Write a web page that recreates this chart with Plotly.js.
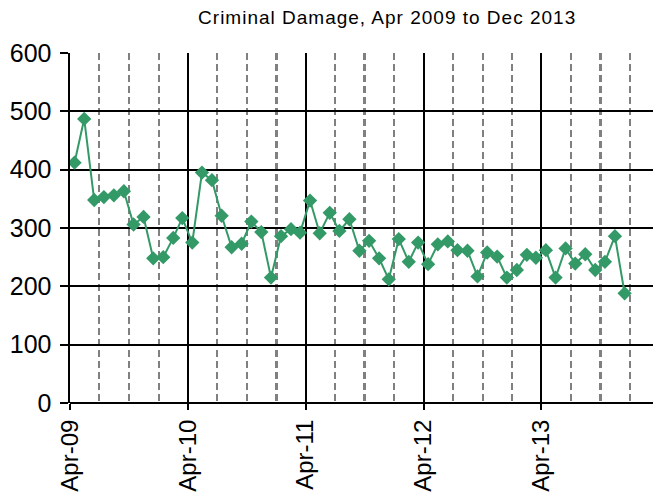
<!DOCTYPE html>
<html>
<head>
<meta charset="utf-8">
<script src="https://cdn.plot.ly/plotly-3.0.1.min.js"></script>
<style>
html, body { margin: 0; padding: 0; background: #fff; }
#chart { width: 653px; height: 492px; }
.gtitle { letter-spacing: 1px; }
</style>
</head>
<body>
<div id="chart"></div>
<script>
// Monthly counts, Apr 2009 .. Dec 2013
const startYear = 2009, startMonth = 4, monthCount = 57;
const counts = [
  412, 487, 348, 353, 356, 363, 306, 319, 248, 250, 283, 317,
  275, 395, 382, 321, 267, 273, 311, 293, 215, 286, 298, 292,
  347, 291, 326, 295, 315, 261, 278, 248, 212, 281, 242, 275,
  238, 272, 277, 262, 261, 217, 258, 251, 215, 228, 254, 249,
  262, 215, 265, 239, 255, 228, 242, 286, 188
];
const yTicks = [0, 100, 200, 300, 400, 500, 600];

const months = [];
for (let i = 0; i < monthCount; i++) {
  const m0 = startMonth - 1 + i;
  const y = startYear + Math.floor(m0 / 12);
  const m = (m0 % 12) + 1;
  months.push(y + '-' + String(m).padStart(2, '0') + '-15');
}

const font = 'Arial, "Liberation Sans", sans-serif';
const green = '#339966';

const trace = {
  x: months,
  y: counts,
  type: 'scatter',
  mode: 'lines+markers',
  line: { color: green, width: 2 },
  marker: { symbol: 'diamond', size: 11, color: green },
  hoverinfo: 'x+y'
};

const layout = {
  width: 653,
  height: 492,
  margin: { l: 70, r: 0, t: 53, b: 89 },
  paper_bgcolor: '#fff',
  plot_bgcolor: '#fff',
  showlegend: false,
  title: {
    text: 'Criminal Damage, Apr 2009 to Dec 2013',
    font: { family: font, size: 19, color: '#000' },
    xref: 'paper', x: 0.544, xanchor: 'center',
    yref: 'container', y: 0.978, yanchor: 'top'
  },
  xaxis: {
    type: 'date',
    range: ['2009-04-01', '2014-03-13'],
    tick0: '2009-04-01',
    dtick: 'M12',
    tickformat: '%b-%y',
    tickangle: -90,
    ticks: 'outside',
    ticklen: 6,
    tickwidth: 2,
    tickcolor: '#000',
    tickfont: { family: font, size: 24, color: '#000' },
    showgrid: true,
    gridcolor: '#000',
    gridwidth: 2,
    minor: {
      tick0: '2009-04-01',
      dtick: 'M3',
      showgrid: true,
      gridcolor: '#808080',
      gridwidth: 2.2,
      griddash: '7px,4px',
      ticks: ''
    },
    showline: false,
    zeroline: false,
    fixedrange: true
  },
  yaxis: {
    range: [0, 600],
    tickvals: yTicks,
    ticktext: yTicks.map(String),
    ticks: 'outside',
    ticklen: 8,
    tickwidth: 2,
    tickcolor: '#000',
    ticklabelstandoff: 3,
    tickfont: { family: font, size: 25, color: '#000' },
    showgrid: true,
    gridcolor: '#000',
    gridwidth: 2,
    showline: true,
    linecolor: '#000',
    linewidth: 2.5,
    zeroline: true,
    zerolinecolor: '#000',
    zerolinewidth: 2.5,
    fixedrange: true
  }
};

Plotly.newPlot('chart', [trace], layout, { displayModeBar: false, staticPlot: true });
</script>
</body>
</html>
